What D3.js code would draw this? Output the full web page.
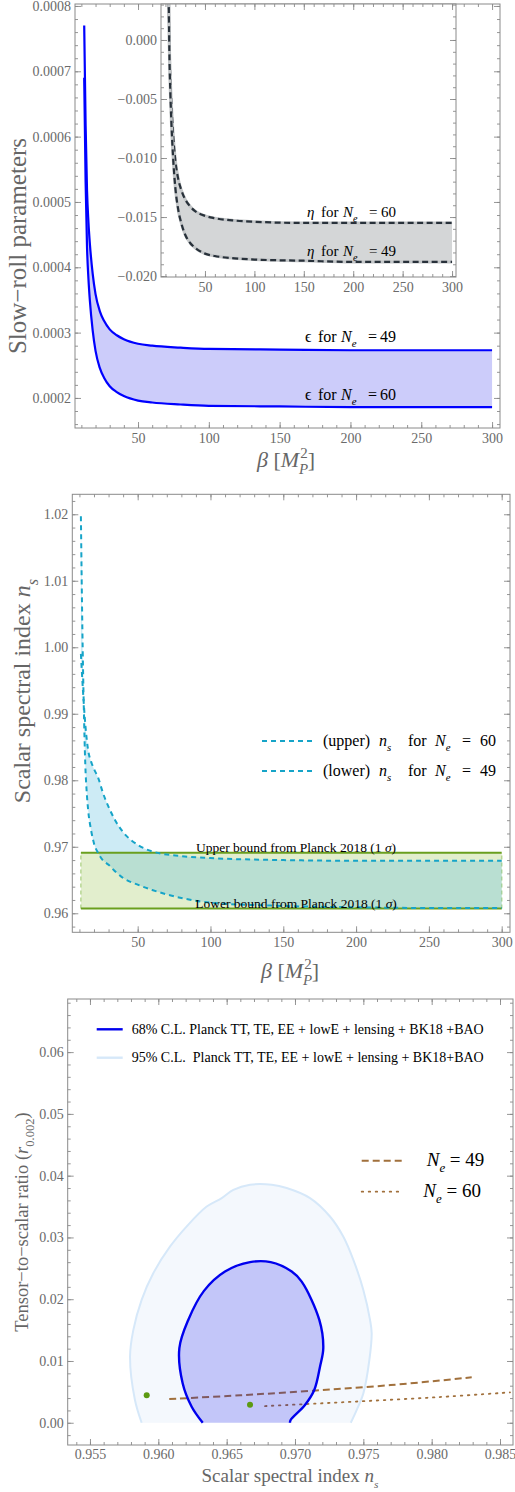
<!DOCTYPE html>
<html><head><meta charset="utf-8">
<script src="https://cdn.jsdelivr.net/npm/d3@7"></script>
<style>
body{margin:0;background:#fff}
svg{display:block}
text{font-family:"Liberation Serif","Times New Roman",serif}
</style>
</head><body>
<svg id="c" width="515" height="1492"></svg>
<script>
// ---------------- DATA ----------------
// Panel 1: slow-roll epsilon (main) and eta (inset) vs beta
const betaEps = [12,13,14,15,16,18,20,23,26,30,35,40,50,60,80,100,150,200,250,300];
const eps49 = [0.000770,0.000617,0.000517,0.000469,0.000436,0.000390,0.000359,0.000333,0.000318,0.000305,0.000296,0.000290,0.000283,0.000280,0.000277,0.000275,0.000274,0.000273,0.000273,0.000273];
const eps60 = [0.000690,0.000530,0.000430,0.000382,0.000349,0.000303,0.000272,0.000246,0.000231,0.000218,0.000209,0.000203,0.000196,0.000193,0.000190,0.000188,0.000187,0.000186,0.000186,0.000186];
const eta60 = [0.0152,0.0057,-0.00045,-0.0034,-0.0054,-0.0083,-0.0102,-0.0118,-0.0127,-0.0135,-0.0141,-0.0145,-0.0149,-0.0151,-0.0153,-0.0154,-0.0155,-0.0155,-0.0155,-0.0155];
const eta49 = [0.0173,0.0062,-0.0011,-0.00455,-0.00695,-0.0103,-0.0125,-0.0144,-0.0155,-0.0165,-0.0172,-0.0176,-0.0181,-0.0183,-0.0185,-0.0186,-0.0187,-0.0188,-0.0188,-0.0188];
// Panel 2: scalar spectral index vs beta
const betaNs = [11,12,13,14,15,16,18,20,23,26,30,35,40,50,60,80,100,150,200,250,300];
const nsUpper60 = [0.9990,0.9950,0.9915,0.9885,0.9862,0.9845,0.9828,0.9817,0.9803,0.9782,0.9760,0.9738,0.9722,0.9703,0.9693,0.9686,0.9683,0.9680,0.9679,0.9679,0.9679];
const nsLower49 = [1.0197,1.0030,0.9910,0.9825,0.9782,0.9755,0.9725,0.9705,0.9690,0.9680,0.9673,0.9662,0.9653,0.9643,0.9635,0.9623,0.9616,0.9611,0.9609,0.9608,0.9608];
const planckBounds = [0.9607, 0.9691];
const bandBeta = [11, 300];
// Panel 3: r vs n_s
const contour68 = [[0.96325,0],[0.96244,0.0026],[0.96178,0.0064],[0.96154,0.0121],[0.96219,0.01665],[0.96334,0.02135],[0.96488,0.02448],[0.96671,0.0260],[0.96822,0.0260],[0.96976,0.02448],[0.97049,0.02285],[0.97178,0.01665],[0.97207,0.0121],[0.97183,0.00908],[0.97141,0.0053],[0.97073,0.00287],[0.96968,0.00044],[0.96963,0]];
const contour95 = [[0.95878,0],[0.95829,0.00368],[0.95793,0.0107],[0.95817,0.0150],[0.95878,0.0199],[0.95963,0.0242],[0.96085,0.0285],[0.96208,0.0318],[0.96354,0.0350],[0.96464,0.03637],[0.96549,0.0377],[0.96671,0.03853],[0.9683,0.03853],[0.96939,0.0380],[0.9711,0.03637],[0.97256,0.03339],[0.97353,0.03015],[0.97427,0.02637],[0.9750,0.0215],[0.97549,0.01665],[0.97561,0.01449],[0.97544,0.01016],[0.9750,0.00476],[0.97451,0.00206],[0.97408,0]];
const lineNe49 = [[0.9608,0.00384],[0.9660,0.00445],[0.97134,0.00519],[0.9770,0.00610],[0.98293,0.00735]];
const lineNe60 = [[0.96781,0.0027],[0.9715,0.0031],[0.97524,0.00352],[0.9805,0.00415],[0.98573,0.00492]];
const dots = [[0.95915,0.00444],[0.96671,0.00292]];
// tick labels
const p1XTicks = [50,100,150,200,250,300];
const p1YTicks = [0.0002,0.0003,0.0004,0.0005,0.0006,0.0007,0.0008];
const insetYTicks = [-0.020,-0.015,-0.010,-0.005,0.000];
const p2YTicks = [0.96,0.97,0.98,0.99,1.00,1.01,1.02];
const p3XTicks = [0.955,0.960,0.965,0.970,0.975,0.980,0.985];
const p3YTicks = [0.00,0.01,0.02,0.03,0.04,0.05,0.06];

// ---------------- HELPERS ----------------
const svg = d3.select('#c');
const FRAME = '#8a8a8a', TICKTXT = '#6a6a6a';
const rng = (a,b,s) => d3.range(Math.round(a/s), Math.round(b/s)+1).map(i => +(i*s).toFixed(8));

function drawFrame(g, x, y, o) {
  const [xl, xr] = x.range(), [yb, yt] = y.range();
  g.append('rect').attr('x',xl).attr('y',yt).attr('width',xr-xl).attr('height',yb-yt)
    .attr('fill', o.bg || 'none').attr('stroke', FRAME).attr('stroke-width',1);
  const mk = (fn, sc, vals, size, fmt, tr, pad) => {
    const a = g.append('g').attr('transform', tr)
      .call(fn(sc).tickValues(vals).tickSize(-size).tickSizeOuter(0).tickPadding(pad).tickFormat(fmt || (() => '')));
    a.select('.domain').remove();
    a.selectAll('line').attr('stroke', FRAME).attr('stroke-width', 0.9);
    a.attr('font-family', 'Liberation Serif, serif').attr('font-size', o.fs || 14);
    a.selectAll('text').attr('fill', TICKTXT);
  };
  mk(d3.axisBottom, x, o.xMinor, 3, null, `translate(0,${yb})`, 4);
  mk(d3.axisBottom, x, o.xMajor, 6, o.xFmt, `translate(0,${yb})`, o.xPad || 4);
  mk(d3.axisTop, x, o.xMinor, 3, null, `translate(0,${yt})`, 4);
  mk(d3.axisTop, x, o.xMajor, 6, null, `translate(0,${yt})`, 4);
  mk(d3.axisLeft, y, o.yMinor, 3, null, `translate(${xl},0)`, 4);
  mk(d3.axisLeft, y, o.yMajor, 6, o.yFmt, `translate(${xl},0)`, o.yPad || 4);
  mk(d3.axisRight, y, o.yMinor, 3, null, `translate(${xr},0)`, 4);
  mk(d3.axisRight, y, o.yMajor, 6, null, `translate(${xr},0)`, 4);
}

function rich(g, x, y, size, parts, o = {}) {
  const t = g.append('text').attr('x', x).attr('y', y).attr('font-size', size)
    .attr('fill', o.fill || '#000').attr('text-anchor', o.anchor || 'start').style('white-space', 'pre');
  if (o.rotate) t.attr('transform', `rotate(-90,${x},${y})`);
  let shift = 0;
  parts.forEach(p => {
    const s = t.append('tspan').text(p.t);
    if (p.i) s.attr('font-style', 'italic');
    if (p.x !== undefined) s.attr('x', p.x);
    const want = p.sub ? size * 0.32 : p.sup ? -size * 0.42 : 0;
    if (want !== shift) { s.attr('dy', want - shift); shift = want; }
    if (p.sub || p.sup) s.attr('font-size', size * (p.scale || 0.68));
    if (p.dx) s.attr('dx', p.dx);
  });
  return t;
}
let clipId = 0;
function clip(g, x, y) {
  const id = 'clip' + (clipId++);
  const [xl, xr] = x.range(), [yb, yt] = y.range();
  svg.append('defs').append('clipPath').attr('id', id).append('rect')
    .attr('x', xl).attr('y', yt).attr('width', xr - xl).attr('height', yb - yt);
  return g.append('g').attr('clip-path', `url(#${id})`);
}
const betaLabel = [{t:'β', i:true},{t:' ['}, {t:'M', i:true},{t:'P', i:true, sub:true},{t:'2', sup:true, dx:-8},{t:']'}];

// ---------------- PANEL 1 ----------------
{
  const g = svg.append('g');
  const x = d3.scaleLinear().domain([5.5, 305.6]).range([75, 500]);
  const y = d3.scaleLinear().domain([0.000154, 0.000803]).range([428, 4]);
  const c = clip(g, x, y);
  const pts = betaEps.map((b, i) => ({b, hi: eps49[i], lo: eps60[i]}));
  c.append('path').datum(pts).attr('fill', '#ccccfa')
    .attr('d', d3.area().x(d => x(d.b)).y0(d => y(d.lo)).y1(d => y(d.hi)).curve(d3.curveMonotoneX));
  const ln = d3.line().curve(d3.curveMonotoneX);
  [eps49, eps60].forEach(arr => {
    c.append('path').attr('fill', 'none').attr('stroke', '#0000ff').attr('stroke-width', 2.2)
      .attr('d', ln(betaEps.map((b, i) => [x(b), y(arr[i])])));
  });
  drawFrame(g, x, y, {
    xMajor: p1XTicks, xMinor: rng(10, 300, 10), xFmt: d3.format('d'), xPad: 5,
    yMajor: p1YTicks, yMinor: rng(0.00016, 0.0008, 0.00002), yFmt: d3.format('.4f')
  });
  [[342, '49'], [400, '60']].forEach(([ly, n]) =>
    rich(g, 305, ly, 16, [{t:'ϵ', scale:1},{t:'for', x:318},{t:'N', i:true, x:341},{t:'e', i:true, sub:true},{t:'=', x:368},{t:n, x:380}]));
  rich(g, 26, 246, 25, [{t:'Slow−roll parameters'}], {rotate:true, anchor:'middle', fill:'#666'});
  rich(g, 286, 467, 22, betaLabel, {anchor:'middle', fill:'#666'});

  // inset
  const gi = svg.append('g');
  const xi = d3.scaleLinear().domain([5.5, 304.0]).range([161, 456]);
  const yi = d3.scaleLinear().domain([-0.02008, 0.00305]).range([277, 4]);
  gi.append('rect').attr('x', 161).attr('y', 4).attr('width', 295).attr('height', 273).attr('fill', '#fff');
  const ci = clip(gi, xi, yi);
  const pe = betaEps.map((b, i) => ({b, hi: eta60[i], lo: eta49[i]}));
  ci.append('path').datum(pe).attr('fill', '#d4d6d7')
    .attr('d', d3.area().x(d => xi(d.b)).y0(d => yi(d.lo)).y1(d => yi(d.hi)).curve(d3.curveMonotoneX));
  [eta60, eta49].forEach(arr => {
    const d = ln(betaEps.map((b, i) => [xi(b), yi(arr[i])]));
    ci.append('path').attr('fill', 'none').attr('stroke', '#c3c6c8').attr('stroke-width', 3).attr('d', d);
    ci.append('path').attr('fill', 'none').attr('stroke', '#28313a').attr('stroke-width', 2.2)
      .attr('stroke-dasharray', '6,3.5').attr('d', d);
  });
  drawFrame(gi, xi, yi, {
    xMajor: p1XTicks, xMinor: rng(10, 300, 10), xFmt: d3.format('d'), xPad: 5,
    yMajor: insetYTicks, yMinor: rng(-0.020, 0.003, 0.001), yFmt: d3.format('.3f')
  });
  [[217, '60'], [256, '49']].forEach(([ly, n]) =>
    rich(gi, 307, ly, 15, [{t:'η', i:true},{t:'for', x:321},{t:'N', i:true, x:343},{t:'e', i:true, sub:true},{t:'=', x:369},{t:n, x:381}]));
}

// ---------------- PANEL 2 ----------------
{
  const g = svg.append('g');
  const x = d3.scaleLinear().domain([5.1, 305.7]).range([72.3, 510]);
  const y = d3.scaleLinear().domain([0.95714, 1.0230]).range([932.3, 494.3]);
  const c = clip(g, x, y);
  // Planck band
  c.append('rect').attr('x', x(bandBeta[0])).attr('width', x(bandBeta[1]) - x(bandBeta[0]))
    .attr('y', y(planckBounds[1])).attr('height', y(planckBounds[0]) - y(planckBounds[1]))
    .attr('fill', 'rgba(160,200,90,0.30)');
  bandBeta.forEach(b => c.append('line').attr('x1', x(b)).attr('x2', x(b))
    .attr('y1', y(planckBounds[0])).attr('y2', y(planckBounds[1]))
    .attr('stroke', '#b6d692').attr('stroke-width', 1.5).attr('stroke-dasharray', '4,3'));
  const pts = betaNs.map((b, i) => ({b, a: nsUpper60[i], l: nsLower49[i]}));
  c.append('path').datum(pts).attr('fill', 'rgba(90,190,222,0.30)')
    .attr('d', d3.area().x(d => x(d.b)).y0(d => y(d.l)).y1(d => y(d.a)).curve(d3.curveMonotoneX));
  planckBounds.forEach(v => c.append('line').attr('x1', x(bandBeta[0])).attr('x2', x(bandBeta[1]))
    .attr('y1', y(v)).attr('y2', y(v)).attr('stroke', '#6a9f1e').attr('stroke-width', 2));
  const ln = d3.line().curve(d3.curveMonotoneX);
  [nsUpper60, nsLower49].forEach(arr => c.append('path').attr('fill', 'none')
    .attr('stroke', '#16a4c8').attr('stroke-width', 2).attr('stroke-dasharray', '5,4')
    .attr('d', ln(betaNs.map((b, i) => [x(b), y(arr[i])]))));
  drawFrame(g, x, y, {
    xMajor: p1XTicks, xMinor: rng(10, 300, 10), xFmt: d3.format('d'), xPad: 5,
    yMajor: p2YTicks, yMinor: rng(0.958, 1.022, 0.002), yFmt: d3.format('.2f')
  });
  [[852, 'Upper'], [908, 'Lower']].forEach(([ly, w]) =>
    rich(g, 296, ly, 13.5, [{t: w + ' bound from Planck 2018 (1 '},{t:'σ', i:true},{t:')'}], {anchor:'middle'}));
  // legend
  [[741, 'upper', '60'], [771, 'lower', '49']].forEach(([ly, w, n]) => {
    g.append('line').attr('x1', 262).attr('x2', 312).attr('y1', ly).attr('y2', ly)
      .attr('stroke', '#16a4c8').attr('stroke-width', 2).attr('stroke-dasharray', '5,4');
    rich(g, 323, ly + 5, 16, [{t:'(' + w + ')'},{t:'n', i:true, x:379},{t:'s', i:true, sub:true},{t:'for', x:408},{t:'N', i:true, x:435},{t:'e', i:true, sub:true},{t:'=', x:462},{t:n, x:480}]);
  });
  rich(g, 30, 691, 24, [{t:'Scalar spectral index '},{t:'n', i:true},{t:'s', i:true, sub:true}], {rotate:true, anchor:'middle', fill:'#666'});
  rich(g, 290, 978, 22, betaLabel, {anchor:'middle', fill:'#666'});
}

// ---------------- PANEL 3 ----------------
{
  const g = svg.append('g');
  const x = d3.scaleLinear().domain([0.95337, 0.98595]).range([67.7, 513]);
  const y = d3.scaleLinear().domain([-0.0036, 0.0686]).range([1445, 999]);
  const c = clip(g, x, y);
  const lnS = d3.line().x(d => x(d[0])).y(d => y(d[1])).curve(d3.curveCatmullRom.alpha(0.5));
  c.append('path').attr('d', lnS(contour95) + 'Z').attr('fill', '#f4f8fd');
  c.append('path').attr('d', lnS(contour95)).attr('fill', 'none').attr('stroke', '#d6e8f9').attr('stroke-width', 2);
  c.append('path').attr('d', lnS(lineNe49)).attr('fill', 'none').attr('stroke', '#a1703c')
    .attr('stroke-width', 2).attr('stroke-dasharray', '7,4');
  c.append('path').attr('d', lnS(lineNe60)).attr('fill', 'none').attr('stroke', '#a1703c')
    .attr('stroke-width', 1.8).attr('stroke-dasharray', '1.5,5.5').attr('stroke-linecap', 'round');
  c.append('path').attr('d', lnS(contour68) + 'Z').attr('fill', 'rgba(0,0,235,0.2)');
  c.append('path').attr('d', lnS(contour68)).attr('fill', 'none').attr('stroke', '#0000ee').attr('stroke-width', 2.4);
  c.selectAll('circle').data(dots).join('circle').attr('cx', d => x(d[0])).attr('cy', d => y(d[1]))
    .attr('r', 3).attr('fill', '#5c9a12');
  drawFrame(g, x, y, {
    xMajor: p3XTicks, xMinor: rng(0.954, 0.985, 0.001), xFmt: d3.format('.3f'), xPad: 4,
    yMajor: p3YTicks, yMinor: rng(-0.002, 0.068, 0.002), yFmt: d3.format('.2f')
  });
  // legends
  g.append('line').attr('x1', 96.7).attr('x2', 122.7).attr('y1', 1029.3).attr('y2', 1029.3).attr('stroke', '#0000ee').attr('stroke-width', 2.4);
  g.append('text').attr('x', 131.7).attr('y', 1033.8).attr('font-size', 14).text('68% C.L. Planck TT, TE, EE + lowE + lensing + BK18 +BAO');
  g.append('line').attr('x1', 96.7).attr('x2', 122.7).attr('y1', 1057.7).attr('y2', 1057.7).attr('stroke', '#d6e8f9').attr('stroke-width', 2.4);
  g.append('text').attr('x', 131.7).attr('y', 1062.2).attr('font-size', 14).style('white-space', 'pre').text('95% C.L.  Planck TT, TE, EE + lowE + lensing + BK18+BAO');
  g.append('line').attr('x1', 361.7).attr('x2', 401.7).attr('y1', 1160.7).attr('y2', 1160.7)
    .attr('stroke', '#a1703c').attr('stroke-width', 2).attr('stroke-dasharray', '7,4');
  rich(g, 426.7, 1166, 19, [{t:'N', i:true},{t:'e', i:true, sub:true},{t:' = 49'}]);
  g.append('line').attr('x1', 361.7).attr('x2', 401.7).attr('y1', 1191.7).attr('y2', 1191.7)
    .attr('stroke', '#a1703c').attr('stroke-width', 1.8).attr('stroke-dasharray', '1.5,5.5').attr('stroke-linecap', 'round');
  rich(g, 423.3, 1197, 19, [{t:'N', i:true},{t:'e', i:true, sub:true},{t:' = 60'}]);
  rich(g, 28, 1222, 18.5, [{t:'Tensor−to−scalar ratio ('},{t:'r', i:true},{t:'0.002', sub:true},{t:')'}], {rotate:true, anchor:'middle', fill:'#666'});
  rich(g, 290, 1482, 19, [{t:'Scalar spectral index '},{t:'n', i:true},{t:'s', i:true, sub:true, scale:0.6}], {anchor:'middle', fill:'#666'});
}
</script>
</body></html>
